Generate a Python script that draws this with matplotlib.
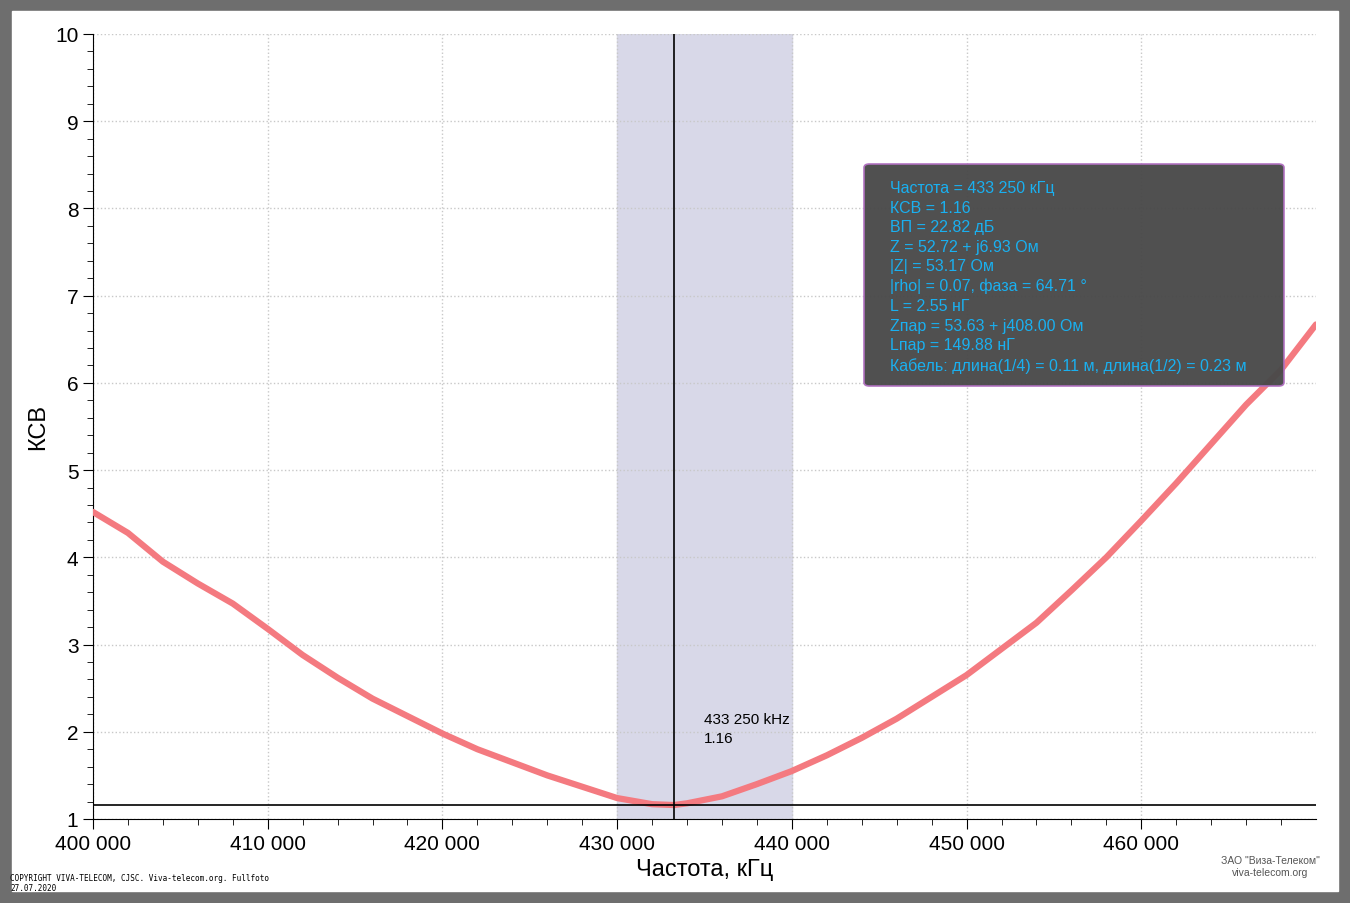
import matplotlib
matplotlib.use("Agg")
import matplotlib.pyplot as plt
from matplotlib.patches import FancyBboxPatch

plt.rcParams['font.family'] = ['Liberation Sans', 'DejaVu Sans']

# frequency, kHz and SWR
freq = [400000, 402000, 404000, 406000, 408000, 410000, 412000, 414000, 416000, 418000,
        420000, 422000, 424000, 426000, 428000, 430000, 432000, 433250, 434000, 436000,
        438000, 440000, 442000, 444000, 446000, 448000, 450000, 452000, 454000, 456000,
        458000, 460000, 462000, 464000, 466000, 468000, 470000]
swr = [4.52, 4.28, 3.95, 3.70, 3.47, 3.18, 2.88, 2.62, 2.38, 2.18,
       1.98, 1.80, 1.65, 1.50, 1.37, 1.24, 1.17, 1.16, 1.18, 1.26,
       1.40, 1.55, 1.73, 1.93, 2.15, 2.40, 2.65, 2.95, 3.25, 3.62,
       4.00, 4.42, 4.85, 5.30, 5.75, 6.15, 6.67]
marker_f = 433250
marker_swr = 1.16
band = (430000, 440000)
xticks = [400000, 410000, 420000, 430000, 440000, 450000, 460000]
xlabels = ["400 000", "410 000", "420 000", "430 000", "440 000", "450 000", "460 000"]
info = ["Частота = 433 250 кГц", "КСВ = 1.16", "ВП = 22.82 дБ", "Z = 52.72 + j6.93 Ом",
        "|Z| = 53.17 Ом", "|rho| = 0.07, фаза = 64.71 °", "L = 2.55 нГ",
        "Zпар = 53.63 + j408.00 Ом", "Lпар = 149.88 нГ",
        "Кабель: длина(1/4) = 0.11 м, длина(1/2) = 0.23 м"]

fig = plt.figure(figsize=(13.5, 9.04), dpi=100)
fig.patch.set_facecolor("#6e6e6e")
fig.add_artist(plt.Rectangle((12/1350, 12/904), 1-24/1350, 1-24/904,
                             transform=fig.transFigure, color="white", zorder=0))
ax = fig.add_axes([93/1350, 1-820/904, (1316-93)/1350, (820-35)/904])
ax.set_facecolor("white")

ax.axvspan(*band, color="#d8d8e8", zorder=1)
ax.plot(freq, swr, color="#f47a80", lw=4.5, zorder=3, solid_capstyle="round")
ax.axvline(marker_f, color="black", lw=1.2, zorder=4)
ax.axhline(marker_swr, color="black", lw=1.2, zorder=4)
ax.text(marker_f + 1700, 1.85, f"433 250 kHz\n{marker_swr}", fontsize=11, va="bottom",
        linespacing=1.4, zorder=5)

ax.set_xlim(400000, 470000)
ax.set_ylim(1, 10)
ax.set_xticks(xticks)
ax.set_xticklabels(xlabels, fontsize=15)
ax.set_xticks(range(402000, 470000, 2000), minor=True)
ax.set_yticks(range(1, 11))
ax.set_yticks([y / 5 for y in range(5, 50)], minor=True)
ax.tick_params(axis="y", labelsize=15)
ax.tick_params(which="major", length=7)
ax.tick_params(which="minor", length=4)
ax.grid(True, which="major", color="#c8c8c8", ls=":", lw=1)
for s in ["top", "right"]:
    ax.spines[s].set_visible(False)
ax.set_xlabel("Частота, кГц", fontsize=17)
ax.set_ylabel("КСВ", fontsize=17)

box = FancyBboxPatch((864/1350, 1-387/904), 420/1350, 222/904, transform=fig.transFigure,
                     boxstyle="round,pad=0,rounding_size=0.004", fc="#4a4a4a", ec="#b070c0",
                     lw=1.2, alpha=0.97, zorder=10)
fig.add_artist(box)
fig.text(890/1350, 1-181/904, "\n".join(info), color="#1ab0f0", fontsize=11.5, va="top",
         linespacing=1.38, zorder=11)

fig.text(10/1350, 1-874/904, "COPYRIGHT VIVA-TELECOM, CJSC. Viva-telecom.org. Fullfoto\n27.07.2020",
         fontsize=5.5, family="monospace", va="top")
fig.text(1270/1350, 1-867/904, "ЗАО \"Виза-Телеком\"\nviva-telecom.org", fontsize=7.5,
         ha="center", va="center", color="#555555")

fig.savefig("out.png", dpi=100, facecolor=fig.get_facecolor())
